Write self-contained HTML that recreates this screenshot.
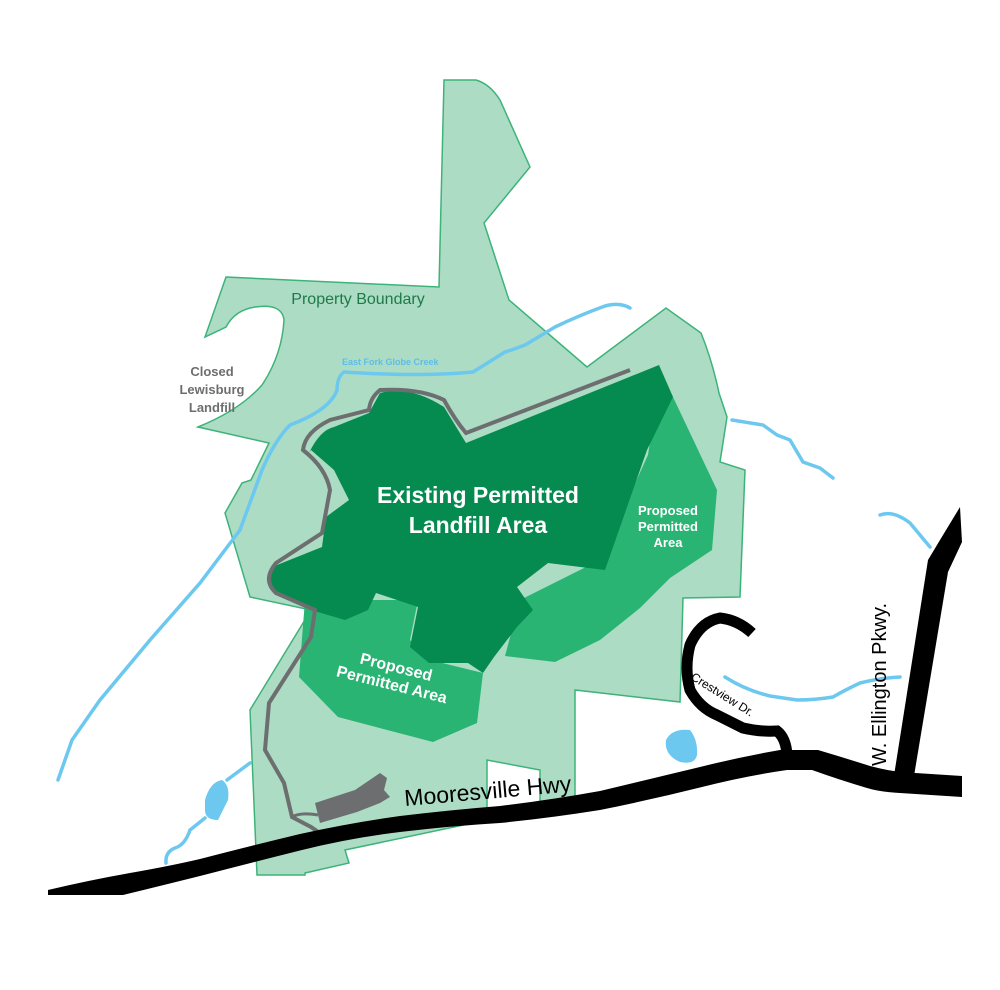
<!DOCTYPE html>
<html><head><meta charset="utf-8"><style>
html,body{margin:0;padding:0;background:#fff;}
svg{display:block;}
text{font-family:"Liberation Sans",sans-serif;}
</style></head><body>
<svg width="1000" height="990" viewBox="0 0 1000 990" xmlns="http://www.w3.org/2000/svg">
<path d="M226,277 L439,287 L444,80 L476,80 Q490,84 500,100 L530,167 L484,223 L509,300 L587,367 L666,308 L701,333 Q712,360 719,393 L727,417 L720,462 L745,470 L740,597 L683,598 L680,702 L575,690 L575,800 L540,810 L540,770 L487,760 L487,820 L345,850 L349,863 L305,873 L305,875 L257,875 L250,710 L311,610 L250,597 L225,513 L242,483 L251,480 L269,443 L198,427 Q240,410 262,385 Q282,355 284,320 Q282,303 255,307 Q235,310 226,327 L205,337 Z" fill="#acdcc4" stroke="#3db37a" stroke-width="1.5"/>
<path d="M660,375 L673,397 L717,490 L712,550 L670,578 L640,608 L600,640 L555,662 L505,656 L520,600 L600,560 L648,455 Z" fill="#29b473"/>
<path d="M305,600 L299,677 L338,717 L433,742 L477,723 L483,673 L430,660 L410,640 L418,600 L370,600 Z" fill="#29b473"/>
<path d="M659,365 L673,397 L647,450 L605,570 L548,563 L517,587 L533,610 L517,627 L494,657 L483,673 L468,663 L429,663 L410,647 L418,607 L376,593 L368,610 L345,620 L311,610 L269,587 L272,567 L322,547 L326,517 L349,500 L334,470 L311,450 L309,453 Q320,430 334,427 L369,413 L380,393 Q410,385 444,407 L466,443 Z" fill="#058a4f"/>
<path d="M630,370 L466,433 Q455,420 444,400 Q420,388 380,390 Q370,398 369,410 L330,420 Q305,432 303,450 Q326,468 330,490 L322,533 L276,563 Q262,580 276,593 L315,610 L311,637 L269,703 L265,750 L284,783 L292,817 L311,827 L330,840" fill="none" stroke="#6d6e70" stroke-width="4"/>
<path d="M292,817 Q300,812 318,815" fill="none" stroke="#6d6e70" stroke-width="3"/>
<path d="M315,803 L355,790 L380,773 L387,778 L384,790 L390,797 L380,803 L357,812 L320,823 Z" fill="#6d6e70"/>
<g fill="none" stroke="#6dc8ef" stroke-width="3.5" stroke-linecap="round">
<path d="M630,308 Q620,302 605,306 Q580,315 555,327 L525,345 Q512,350 505,352 L473,372 Q420,377 344,372 Q337,377 337,390 Q330,410 290,425 Q275,440 262,470 L240,530 L200,583 L150,640 L100,700 L72,740 L58,780"/>
<path d="M732,420 L763,425 L777,435 L790,440 L803,462 L820,468 L833,478"/>
<path d="M880,515 Q893,510 910,523 L930,547"/>
<path d="M725,677 Q745,690 770,696 L797,700 Q815,700 833,697 Q845,690 860,683 Q880,678 900,677"/>
<path d="M250,763 L227,780 M205,818 L190,830 Q185,845 175,848 Q165,852 166,863"/>
</g>
<path d="M205,800 Q210,782 222,780 Q230,785 228,800 L218,820 Q205,820 205,810 Z" fill="#6dc8ef"/>
<path d="M666,740 Q672,728 690,730 Q698,740 697,755 Q695,765 680,762 Q664,755 666,740 Z" fill="#6dc8ef"/>
<path d="M48,890 Q90,880 130,873 Q170,866 200,859 Q250,846 300,834 Q350,823 400,816 Q450,810 500,806 Q550,800 600,791 Q650,779 700,767 Q740,757 780,750 L818,750 Q845,758 870,766 Q885,770 900,772 L962,776 L962,797 L900,793 Q880,792 867,788 Q840,780 812,770 L787,770 Q745,776 702,787 Q650,800 600,810 Q550,818 500,823 Q450,826 400,832 Q350,838 302,850 Q250,863 200,876 Q160,886 123,895 L48,895 Z" fill="#000"/>
<path d="M960,507 L962,542 L948,572 L913,782 L893,782 L928,560 L940,540 Z" fill="#000"/>
<path d="M752,633 Q738,620 720,618 Q700,622 690,645 Q684,668 690,690 Q700,708 717,715 L743,728 Q760,732 777,731 Q786,738 787,755" fill="none" stroke="#000" stroke-width="11"/>
<text x="358" y="304" font-size="16" fill="#1e7a48" text-anchor="middle">Property Boundary</text>
<text x="342" y="365" font-size="9" font-weight="bold" fill="#5dbde9">East Fork Globe Creek</text>
<g font-size="13" font-weight="bold" fill="#6d6e70" text-anchor="middle">
<text x="212" y="376">Closed</text><text x="212" y="394">Lewisburg</text><text x="212" y="412">Landfill</text></g>
<g font-size="23" font-weight="bold" fill="#fff" text-anchor="middle">
<text x="478" y="503">Existing Permitted</text><text x="478" y="533">Landfill Area</text></g>
<g font-size="13" font-weight="bold" fill="#fff" text-anchor="middle">
<text x="668" y="515">Proposed</text><text x="668" y="531">Permitted</text><text x="668" y="547">Area</text></g>
<g font-size="16" font-weight="bold" fill="#fff" text-anchor="middle" transform="rotate(14 393 680)">
<text x="393" y="672">Proposed</text><text x="393" y="690">Permitted Area</text></g>
<text x="405" y="806" font-size="23" fill="#000" transform="rotate(-5 405 806)">Mooresville Hwy</text>
<text x="690" y="679" font-size="12" fill="#000" transform="rotate(32 690 679)">Crestview Dr.</text>
<text x="886" y="766" font-size="20" fill="#000" transform="rotate(-90 886 766)">W. Ellington Pkwy.</text>
</svg>
</body></html>
